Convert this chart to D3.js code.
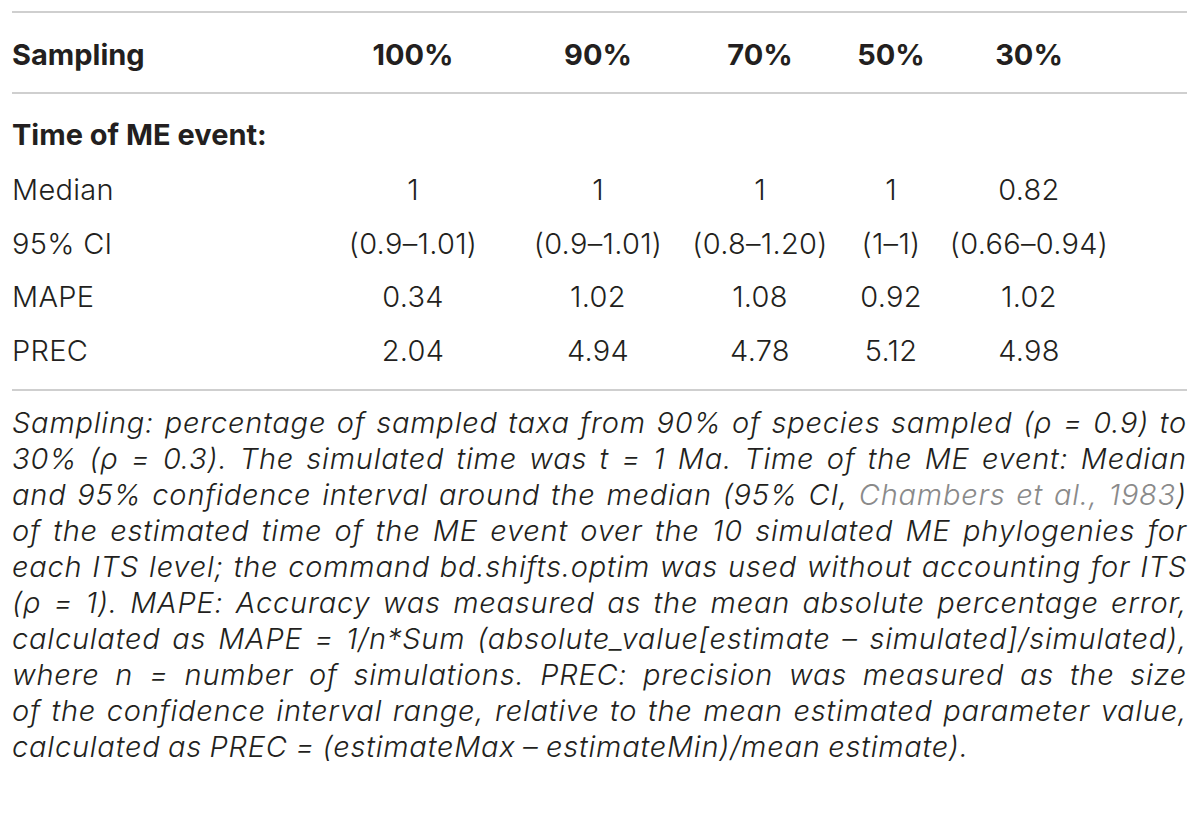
<!DOCTYPE html>
<html>
<head>
<meta charset="utf-8">
<script src="https://cdn.jsdelivr.net/npm/d3@7"></script>
<style>
  html, body { margin: 0; padding: 0; background: #fff; }
  #table-me-event { width: 1200px; height: 836px; }
  .body-text { font-family: Inter, Roboto, "Liberation Sans", sans-serif; font-weight: 300; fill: #231f20; letter-spacing: 0.3px; }
  .head-text { font-family: Inter, "Liberation Sans", Arial, sans-serif; font-weight: 700; fill: #231f20; }
  .note-text { font-family: Inter, Roboto, "Liberation Sans", sans-serif; font-weight: 300; font-style: italic; fill: #231f20; letter-spacing: 0.8px; }
  .note-link { fill: #8a8a8a; }
</style>
</head>
<body>
<div id="table-me-event"></div>
<script>
// table values
const samplingLevels = ["100%", "90%", "70%", "50%", "30%"];
const rowLabels = ["Median", "95% CI", "MAPE", "PREC"];
const medianValues = ["1", "1", "1", "1", "0.82"];
const ciValues = ["(0.9\u20131.01)", "(0.9\u20131.01)", "(0.8\u20131.20)", "(1\u20131)", "(0.66\u20130.94)"];
const mapeValues = ["0.34", "1.02", "1.08", "0.92", "1.02"];
const precValues = ["2.04", "4.94", "4.78", "5.12", "4.98"];
const sectionTitle = "Time of ME event:";

// footnote, one entry per printed line; {...} marks the citation link
const noteLines = [
  "Sampling: percentage of sampled taxa from 90% of species sampled (\u03c1 = 0.9) to",
  "30% (\u03c1 = 0.3). The simulated time was t = 1 Ma. Time of the ME event: Median",
  "and 95% confidence interval around the median (95% CI, {Chambers et al., 1983})",
  "of the estimated time of the ME event over the 10 simulated ME phylogenies for",
  "each ITS level; the command bd.shifts.optim was used without accounting for ITS",
  "(\u03c1 = 1). MAPE: Accuracy was measured as the mean absolute percentage error,",
  "calculated as MAPE = 1/n*Sum (absolute_value[estimate \u2013 simulated]/simulated),",
  "where n = number of simulations. PREC: precision was measured as the size",
  "of the confidence interval range, relative to the mean estimated parameter value,",
  "calculated as PREC = (estimateMax \u2013 estimateMin)/mean estimate)."
];

function renderTable(containerId) {
  const container = d3.select(`#${containerId}`);
  container.selectAll("*").remove();

  const width = 1200;
  const height = 836;
  const left = 12;
  const right = 1187;
  const fontSize = 29;

  const svg = container.append("svg")
    .attr("width", width)
    .attr("height", height);

  svg.append("rect")
    .attr("width", width)
    .attr("height", height)
    .attr("fill", "#fff");

  const col = d3.scaleOrdinal()
    .domain(samplingLevels)
    .range([413, 598, 760, 891, 1029]);

  const row = d3.scalePoint()
    .domain(rowLabels)
    .range([200, 361]);

  // rules
  svg.selectAll("line.rule")
    .data([12, 93, 390])
    .join("line")
    .attr("class", "rule")
    .attr("x1", left)
    .attr("x2", right)
    .attr("y1", d => d)
    .attr("y2", d => d)
    .attr("stroke", "#cfcfcf")
    .attr("stroke-width", 2);

  // header
  svg.append("text")
    .attr("class", "head-text")
    .attr("x", left)
    .attr("y", 65)
    .style("font-size", fontSize + "px")
    .text("Sampling");

  svg.selectAll("text.col-head")
    .data(samplingLevels)
    .join("text")
    .attr("class", "head-text col-head")
    .attr("x", d => col(d))
    .attr("y", 65)
    .attr("text-anchor", "middle")
    .style("font-size", fontSize + "px")
    .text(d => d);

  svg.append("text")
    .attr("class", "head-text")
    .attr("x", left)
    .attr("y", 145)
    .style("font-size", fontSize + "px")
    .text(sectionTitle);

  // body rows
  const rowValues = [medianValues, ciValues, mapeValues, precValues];
  const cells = rowLabels.flatMap((r, i) =>
    samplingLevels.map((s, j) => ({ row: r, col: s, value: rowValues[i][j] })));

  svg.selectAll("text.row-label")
    .data(rowLabels)
    .join("text")
    .attr("class", "body-text row-label")
    .attr("x", left)
    .attr("y", d => row(d))
    .style("font-size", fontSize + "px")
    .text(d => d);

  svg.selectAll("text.cell")
    .data(cells)
    .join("text")
    .attr("class", "body-text cell")
    .attr("x", d => col(d.col))
    .attr("y", d => row(d.row))
    .attr("text-anchor", "middle")
    .style("font-size", fontSize + "px")
    .text(d => d.value);

  // footnote, justified line by line
  const note = svg.append("g").attr("class", "note");
  const lineY = d3.scalePoint()
    .domain(d3.range(noteLines.length))
    .range([433, 433 + 36 * (noteLines.length - 1)]);

  noteLines.forEach((line, li) => {
    let inLink = false;
    const words = line.split(" ").map(w => {
      const pieces = [];
      let buf = "";
      for (const ch of w) {
        if (ch === "{" || ch === "}") {
          if (buf) pieces.push({ t: buf, link: inLink });
          buf = "";
          inLink = ch === "{";
        } else buf += ch;
      }
      if (buf) pieces.push({ t: buf, link: inLink });
      return pieces;
    });

    const nodes = words.map(pieces => {
      const t = note.append("text")
        .attr("class", "note-text")
        .attr("y", lineY(li))
        .style("font-size", fontSize + "px");
      pieces.forEach(p => {
        t.append("tspan")
          .attr("class", p.link ? "note-link" : null)
          .text(p.t);
      });
      return t;
    });

    const widths = nodes.map(n => n.node().getComputedTextLength());
    const isLast = li === noteLines.length - 1;
    const gap = isLast
      ? fontSize * 0.26
      : (right - left - d3.sum(widths)) / (nodes.length - 1);

    let x = left;
    nodes.forEach((n, k) => {
      n.attr("x", x);
      x += widths[k] + gap;
    });
  });
}

document.addEventListener("DOMContentLoaded", () => {
  renderTable("table-me-event");
});
</script>
</body>
</html>
